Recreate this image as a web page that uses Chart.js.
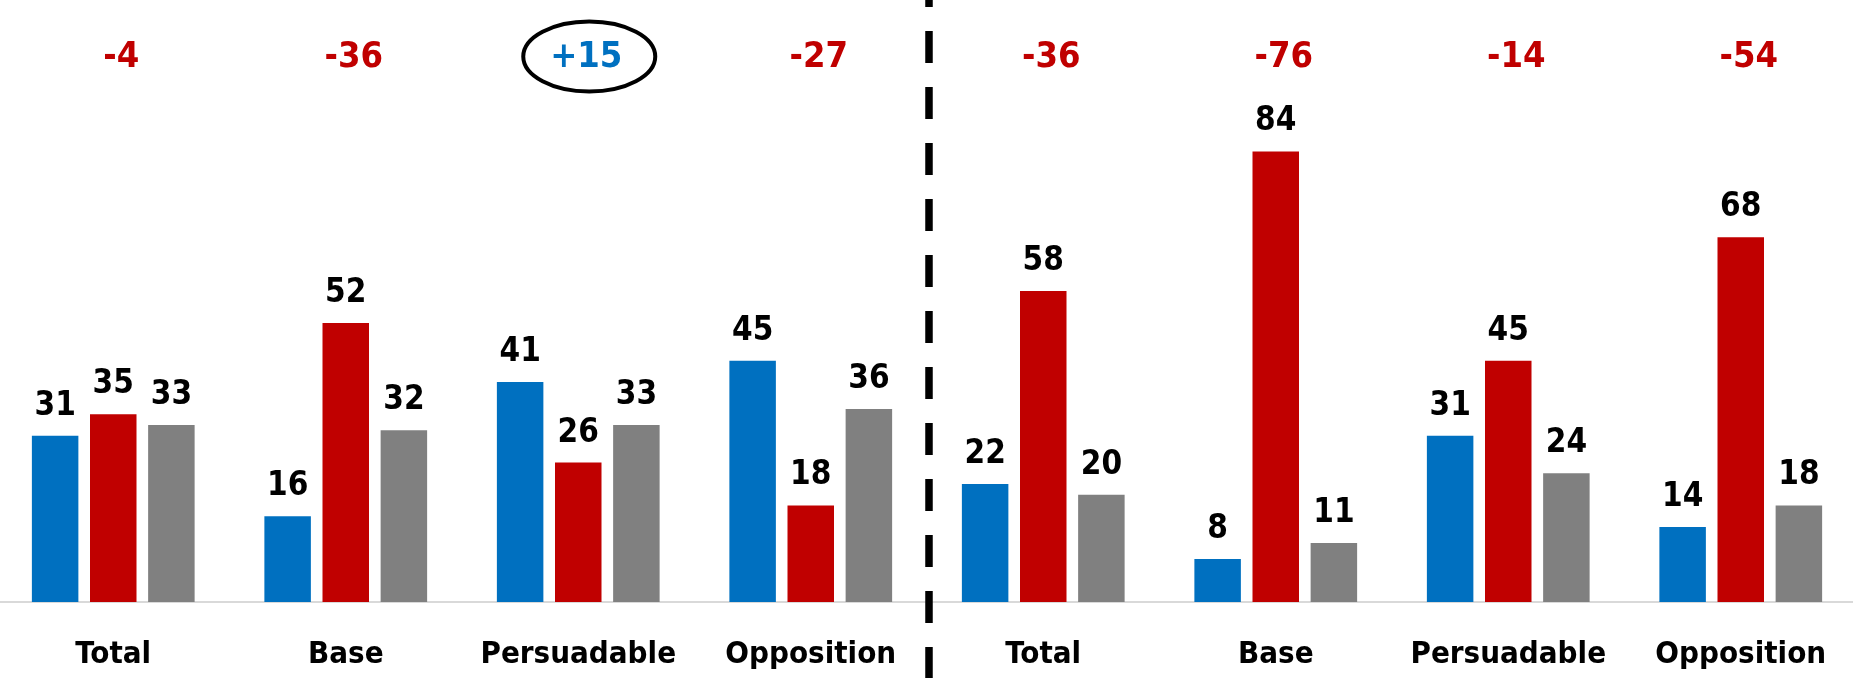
<!DOCTYPE html>
<html>
<head>
<meta charset="utf-8">
<title>Groups chart</title>
<script src="https://cdn.jsdelivr.net/npm/chart.js@4"></script>
<style>
  html, body { margin: 0; padding: 0; background: #fff; overflow: hidden; }
  #wrap { width: 1853px; height: 678px; overflow: hidden; position: relative; }
  #chart { position: absolute; left: -3px; top: 0; }
</style>
</head>
<body>
<div id="wrap"><canvas id="chart" width="1860" height="678"></canvas></div>
<script>
// values
var categories = ['Total', 'Base', 'Persuadable', 'Opposition', 'Total', 'Base', 'Persuadable', 'Opposition'];
var blueVals = [31, 16, 41, 45, 22, 8, 31, 14];
var redVals = [35, 52, 26, 18, 58, 84, 45, 68];
var greyVals = [33, 32, 33, 36, 20, 11, 24, 18];
var netLabels = ['-4', '-36', '+15', '-27', '-36', '-76', '-14', '-54'];
var circledIndex = 2;

var BLUE = '#0070C0', RED = '#C00000', GREY = '#808080';
var FONT = "'Liberation Sans Narrow', 'DejaVu Sans Condensed', 'Arial Narrow', sans-serif";

// numbers above each bar
var barLabels = {
  id: 'barLabels',
  afterDatasetsDraw: function(chart){
    var ctx = chart.ctx;
    ctx.save();
    ctx.font = 'bold 33px ' + FONT;
    ctx.fillStyle = '#000';
    ctx.textAlign = 'center';
    ctx.textBaseline = 'alphabetic';
    chart.data.datasets.forEach(function(ds, i){
      chart.getDatasetMeta(i).data.forEach(function(bar, j){
        ctx.fillText(String(ds.data[j]), bar.x, bar.y - 21);
      });
    });
    ctx.restore();
  }
};

// net numbers on top, the circle and the dashed divider
var topNotes = {
  id: 'topNotes',
  afterDraw: function(chart){
    var ctx = chart.ctx, x = chart.scales.x;
    ctx.save();
    ctx.font = 'bold 36px ' + FONT;
    ctx.textAlign = 'center';
    ctx.textBaseline = 'alphabetic';
    netLabels.forEach(function(t, i){
      var cx = x.getPixelForValue(i) + 8;
      ctx.fillStyle = t.charAt(0) === '+' ? BLUE : RED;
      ctx.fillText(t, cx, 67);
      if (i === circledIndex){
        ctx.beginPath();
        ctx.lineWidth = 4;
        ctx.strokeStyle = '#000';
        ctx.ellipse(cx + 3, 56.5, 66, 35, 0, 0, Math.PI * 2);
        ctx.stroke();
      }
    });
    var mid = (x.getPixelForValue(3) + x.getPixelForValue(4)) / 2 + 2;
    ctx.beginPath();
    ctx.setLineDash([32, 24]);
    ctx.lineDashOffset = 25;
    ctx.lineWidth = 7.5;
    ctx.strokeStyle = '#000';
    ctx.moveTo(mid, 0);
    ctx.lineTo(mid, chart.height);
    ctx.stroke();
    ctx.restore();
  }
};

new Chart(document.getElementById('chart').getContext('2d'), {
  type: 'bar',
  data: {
    labels: categories,
    datasets: [
      { data: blueVals, backgroundColor: BLUE },
      { data: redVals, backgroundColor: RED },
      { data: greyVals, backgroundColor: GREY }
    ]
  },
  options: {
    responsive: false,
    animation: false,
    layout: { padding: { top: 12, left: 0, right: 0, bottom: 0 } },
    categoryPercentage: 0.75,
    barPercentage: 0.8,
    plugins: { legend: { display: false }, tooltip: { enabled: false } },
    scales: {
      x: {
        grid: { display: false, drawTicks: false },
        border: { display: true, color: '#D9D9D9', width: 2 },
        ticks: { color: '#000', font: { family: FONT, size: 31, weight: 'bold' }, padding: 34, maxRotation: 0, autoSkip: false },
        afterFit: function(scale){
          scale.height = 76;
          scale.paddingLeft = 0;
          scale.paddingRight = 0;
        }
      },
      y: {
        display: false,
        min: 0,
        max: 110
      }
    }
  },
  plugins: [barLabels, topNotes]
});
</script>
</body>
</html>
